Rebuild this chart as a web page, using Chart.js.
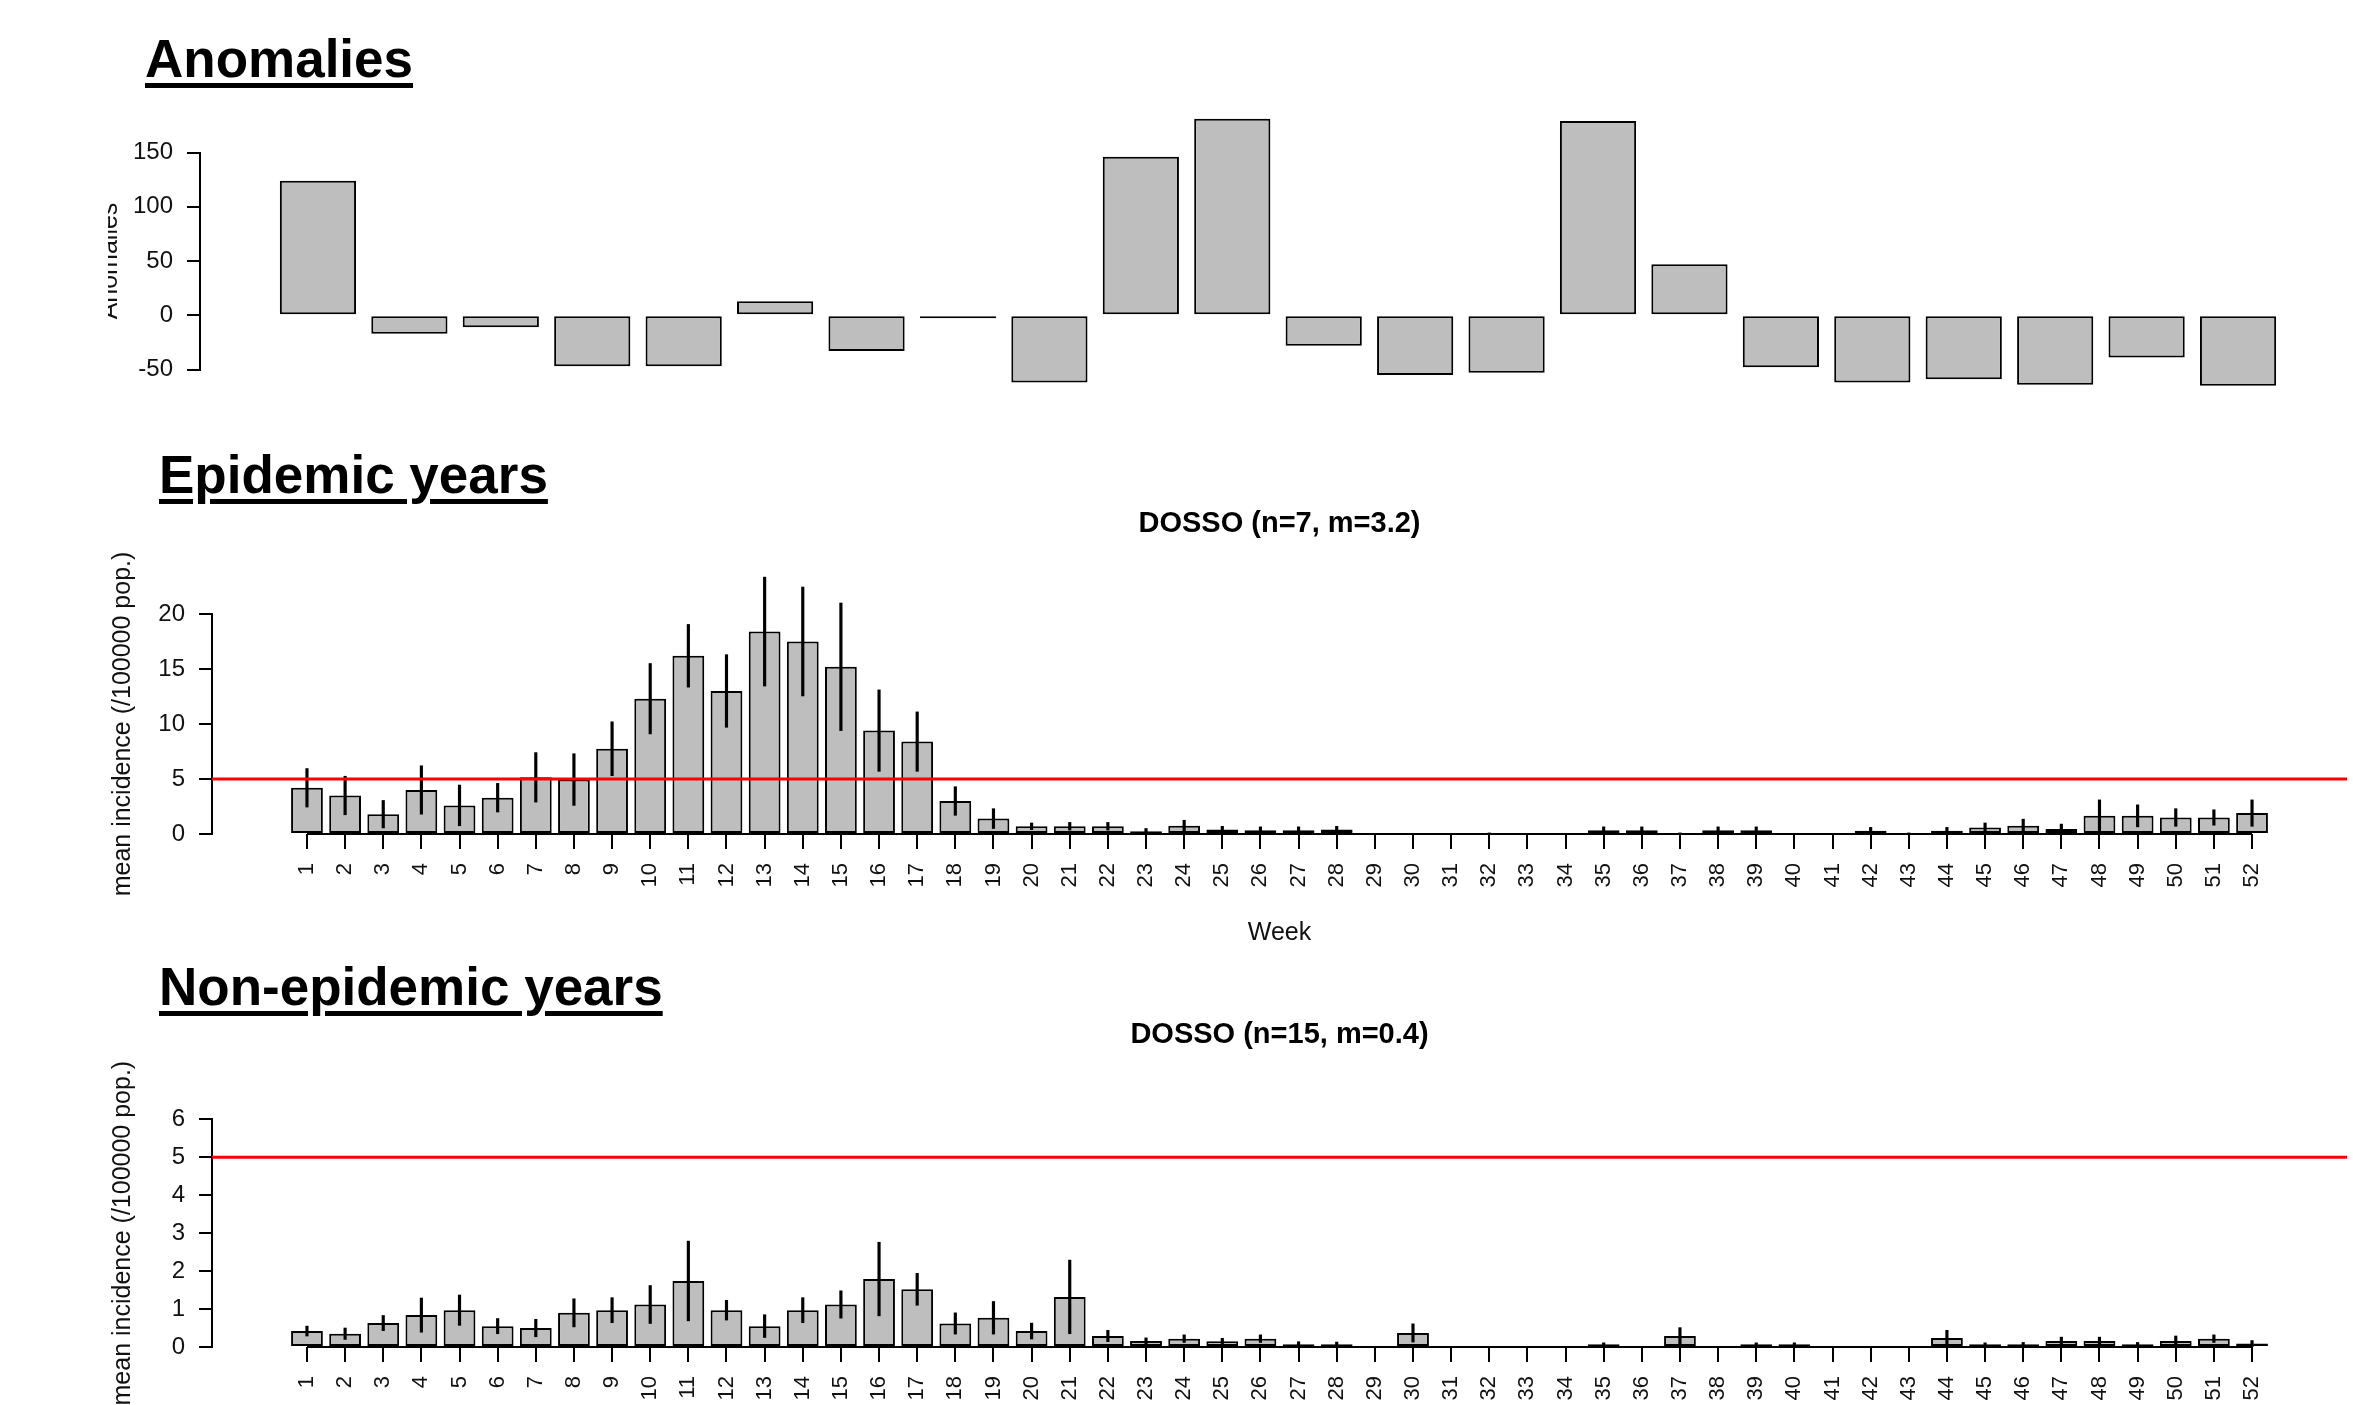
<!DOCTYPE html>
<html>
<head>
<meta charset="utf-8">
<title>DOSSO - weekly incidence</title>
<script src="https://cdn.jsdelivr.net/npm/chart.js"></script>
<style>
    html, body { margin: 0; padding: 0; background: #fff; overflow: hidden; }
    body { position: relative; width: 2353px; height: 1405px; }
    .section {
        position: absolute; z-index: 2; white-space: nowrap; color: #000;
        font-family: 'Liberation Sans', Arial, sans-serif; font-weight: bold;
        font-size: 53px; line-height: 53px;
        text-decoration: underline; text-decoration-thickness: 5px; text-underline-offset: 6px;
    }
    canvas { position: absolute; }
    #wrapAnom { position: absolute; left: 108px; top: 100px; width: 2245px; height: 300px; overflow: hidden; }
</style>
</head>
<body>
<div class="section" style="left:145px; top:32px;">Anomalies</div>
<div class="section" style="left:159px; top:448px;">Epidemic years</div>
<div class="section" style="left:159px; top:960px;">Non-epidemic years</div>

<div id="wrapAnom"><canvas id="anom" width="2261" height="300" style="left:-13px; top:0;"></canvas></div>
<canvas id="epi" width="2245" height="441" style="left:108px; top:507px;"></canvas>
<canvas id="nonepi" width="2245" height="443" style="left:108px; top:1018px;"></canvas>

<script>
// ---- data ----
const weeks = [1, 2, 3, 4, 5, 6, 7, 8, 9, 10, 11, 12, 13, 14, 15, 16, 17, 18, 19, 20, 21, 22, 23, 24, 25, 26,
    27, 28, 29, 30, 31, 32, 33, 34, 35, 36, 37, 38, 39, 40, 41, 42, 43, 44, 45, 46, 47, 48, 49, 50, 51, 52];

// epidemic years: mean incidence and error (half length of the bar)
const epiMean = [4.2, 3.5, 1.8, 4.0, 2.6, 3.3, 5.15, 4.95, 7.75, 12.3, 16.2, 13.0, 18.4, 17.5, 15.2, 9.4, 8.4,
    3.0, 1.4, 0.7, 0.7, 0.7, 0.25, 0.75, 0.4, 0.35, 0.35, 0.4, 0, 0, 0, 0.05, 0, 0, 0.35, 0.35, 0.05, 0.35,
    0.35, 0, 0, 0.3, 0.05, 0.3, 0.6, 0.75, 0.45, 1.65, 1.65, 1.5, 1.5, 1.9];
const epiErr = [1.75, 1.75, 1.25, 2.2, 1.85, 1.3, 2.25, 2.35, 2.45, 3.2, 2.85, 3.3, 4.95, 4.95, 5.8, 3.7, 2.7,
    1.3, 0.9, 0.3, 0.35, 0.35, 0.25, 0.5, 0.3, 0.3, 0.3, 0.3, 0, 0, 0, 0.05, 0, 0, 0.3, 0.3, 0.05, 0.3,
    0.3, 0, 0, 0.3, 0.05, 0.3, 0.4, 0.6, 0.45, 1.45, 1.0, 0.8, 0.7, 1.2];

// non-epidemic years
const nonMean = [0.42, 0.35, 0.63, 0.84, 0.97, 0.55, 0.5, 0.9, 0.97, 1.12, 1.74, 0.97, 0.55, 0.97, 1.12, 1.79,
    1.52, 0.62, 0.77, 0.42, 1.32, 0.29, 0.16, 0.22, 0.15, 0.22, 0.07, 0.07, 0, 0.37, 0, 0, 0, 0, 0.07, 0,
    0.29, 0, 0.07, 0.07, 0, 0, 0, 0.24, 0.07, 0.07, 0.16, 0.16, 0.07, 0.16, 0.22, 0.09];
const nonErr = [0.13, 0.15, 0.2, 0.45, 0.4, 0.2, 0.23, 0.37, 0.33, 0.5, 1.05, 0.26, 0.3, 0.33, 0.36, 0.97,
    0.42, 0.28, 0.43, 0.21, 0.97, 0.15, 0.08, 0.1, 0.08, 0.1, 0.07, 0.06, 0, 0.24, 0, 0, 0, 0, 0.04, 0,
    0.22, 0, 0.04, 0.04, 0, 0, 0, 0.2, 0.04, 0.05, 0.1, 0.1, 0.05, 0.13, 0.1, 0.08];

// anomalies, one bar per year (22 years, no labels on the axis)
const years = [1, 2, 3, 4, 5, 6, 7, 8, 9, 10, 11, 12, 13, 14, 15, 16, 17, 18, 19, 20, 21, 22];
const anomalies = [124, -17, -11, -47, -47, 13, -33, -1, -62, 146, 181, -28, -55, -53, 179, 47, -48, -62,
    -59, -64, -39, -65];

const threshold = 5;
const anomTicks = [-50, 0, 50, 100, 150];
const epiTicks = [0, 5, 10, 15, 20];
const nonTicks = [0, 1, 2, 3, 4, 5, 6];
const epiTitle = 'DOSSO (n=7, m=3.2)';
const nonTitle = 'DOSSO (n=15, m=0.4)';
const yLabel = 'mean incidence (/100000 pop.)';

const FONT = "'Liberation Sans', Arial, sans-serif";
const GREY = '#bebebe';

// x range like R barplot: bars of width 1, gap 0.2, axis widened by 4%
function barplotLimits(n) {
    const lo = 0.2, hi = 1.2 * n, pad = 0.04 * (hi - lo);
    return [(lo - pad + 0.5) / 1.2, (hi + pad + 0.5) / 1.2];
}

function yAxis(ticks, title, width) {
    return {
        min: ticks[0], max: ticks[ticks.length - 1], bounds: 'data',
        afterBuildTicks: function (s) { s.ticks = ticks.map(function (v) { return { value: v }; }); },
        afterFit: function (s) { s.width = width; },
        border: { display: true, color: '#000', width: 2 },
        grid: { drawOnChartArea: false, tickLength: 13, color: '#000', lineWidth: 2 },
        ticks: { padding: 14, color: '#111', font: { family: FONT, size: 24 } },
        title: { display: true, text: title, color: '#111', font: { family: FONT, size: 25 }, padding: 0 }
    };
}

// anomalies panel
var yrLim = barplotLimits(years.length);
new Chart(document.getElementById('anom'), {
    type: 'bar',
    data: {
        datasets: [{
            data: years.map(function (y, i) { return { x: y, y: anomalies[i] }; }),
            backgroundColor: GREY, borderColor: '#000', borderWidth: 2, borderSkipped: false,
            minBarLength: 3, barPercentage: 1 / 1.2, categoryPercentage: 1, clip: false
        }]
    },
    options: {
        responsive: false, animation: false,
        layout: { padding: { top: 52.5, bottom: 30.5, left: 0, right: 0 } },
        plugins: { legend: { display: false }, tooltip: { enabled: false } },
        scales: {
            x: {
                type: 'linear', display: false, offset: false, grid: { offset: false },
                min: yrLim[0], max: yrLim[1], bounds: 'data'
            },
            y: yAxis(anomTicks, 'Anomalies', 105)
        }
    }
});

// incidence panels
function incidenceChart(id, means, errs, yTicks, title, titleGap) {
    var lim = barplotLimits(weeks.length);
    return new Chart(document.getElementById(id), {
        type: 'bar',
        data: {
            datasets: [
                { // threshold line across the plot region
                    type: 'line', order: 0, clip: false,
                    data: [{ x: lim[0], y: threshold }, { x: lim[1], y: threshold }],
                    borderColor: '#ff0000', borderWidth: 3, pointRadius: 0
                },
                { // error bars
                    order: 1, grouped: false, clip: false, barThickness: 2.5,
                    data: weeks.map(function (w, i) { return { x: w, y: [means[i] - errs[i], means[i] + errs[i]] }; }),
                    backgroundColor: '#000'
                },
                { // axis line under the bars
                    type: 'line', order: 2, clip: false,
                    data: [{ x: weeks[0], y: 0 }, { x: weeks[weeks.length - 1], y: 0 }],
                    borderColor: '#000', borderWidth: 2, pointRadius: 0
                },
                {
                    order: 3, grouped: false, clip: false,
                    data: weeks.map(function (w, i) { return { x: w, y: means[i] }; }),
                    backgroundColor: GREY, borderColor: '#000', borderWidth: 2, borderSkipped: false,
                    barPercentage: 1 / 1.2, categoryPercentage: 1
                }
            ]
        },
        options: {
            responsive: false, animation: false,
            layout: { padding: { top: 0, bottom: 0, left: 0, right: 6 } },
            plugins: {
                legend: { display: false }, tooltip: { enabled: false },
                title: {
                    display: true, text: title, fullSize: false, color: '#000',
                    font: { family: FONT, size: 29, weight: 'bold' },
                    padding: { top: 0, bottom: titleGap }
                }
            },
            scales: {
                x: {
                    type: 'linear', offset: false, min: lim[0], max: lim[1], bounds: 'data',
                    afterBuildTicks: function (s) { s.ticks = weeks.map(function (w) { return { value: w }; }); },
                    afterFit: function (s) { s.height = 114; },
                    border: { display: false },
                    grid: { offset: false, drawOnChartArea: false, tickLength: 15, color: '#000', lineWidth: 2 },
                    ticks: {
                        autoSkip: false, minRotation: 90, maxRotation: 90, padding: 14, color: '#111',
                        font: { family: FONT, size: 22 },
                        callback: function (v) { return String(v); }
                    },
                    title: { display: true, text: 'Week', color: '#111', font: { family: FONT, size: 25 }, padding: 0 }
                },
                y: yAxis(yTicks, yLabel, 104)
            }
        }
    });
}

incidenceChart('epi', epiMean, epiErr, epiTicks, epiTitle, 72.2);
incidenceChart('nonepi', nonMean, nonErr, nonTicks, nonTitle, 66.5);
</script>
</body>
</html>
